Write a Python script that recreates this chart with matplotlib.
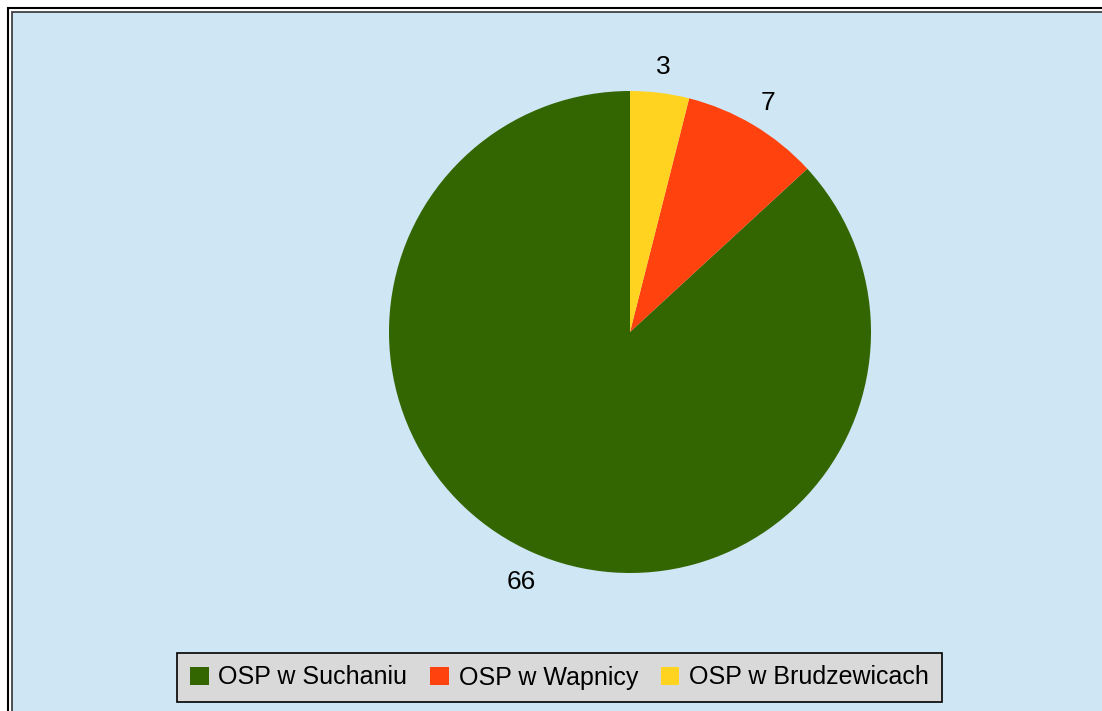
import matplotlib.pyplot as plt
from matplotlib.patches import Rectangle

labels = ['OSP w Suchaniu', 'OSP w Wapnicy', 'OSP w Brudzewicach']
values = [66, 7, 3]
colors = ['#336600', '#FF420E', '#FFD320']

plt.rcParams['font.family'] = ['Liberation Sans', 'DejaVu Sans']

W, H = 1102, 711
fig = plt.figure(figsize=(W / 100, H / 100), dpi=100)
fig.patch.set_facecolor('white')

# background panel with double frame (cut off on right/bottom)
fig.patches.append(Rectangle((12 / W, -0.1), 1.2, (H - 12) / H + 0.1, transform=fig.transFigure,
                             facecolor='#CFE6F4', edgecolor='#333333', linewidth=1.2, zorder=-2))
fig.patches.append(Rectangle((8 / W, -0.1), 1.2, (H - 8) / H + 0.1, transform=fig.transFigure,
                             facecolor='none', edgecolor='black', linewidth=1.5, zorder=-1))

cx, cy, r = 630, 332, 241
ax = fig.add_axes([(cx - r) / W, (H - cy - r) / H, 2 * r / W, 2 * r / H])
ax.set_zorder(3)
wedges, texts = ax.pie(values, colors=colors, startangle=90, counterclock=True,
                       labels=[str(v) for v in values], labeldistance=1.12,
                       textprops={'fontsize': 19, 'color': 'black'},
                       wedgeprops={'linewidth': 0})
for t in texts:
    t.set_ha('center')
    t.set_va('center_baseline')
ax.set_xlim(-1, 1)
ax.set_ylim(-1, 1)
ax.set_aspect('auto')
ax.axis('off')

leg = fig.legend(wedges, labels, loc='center', bbox_to_anchor=(559.5 / W, (H - 677.5) / H),
                 ncol=3, fontsize=18, frameon=True, fancybox=False, framealpha=1,
                 facecolor='#D9D9D9', edgecolor='black', handlelength=0.75, handleheight=0.75,
                 handletextpad=0.4, columnspacing=0.9, borderpad=0.5, borderaxespad=0)
leg.get_frame().set_linewidth(1.2)
leg.set_zorder(4)

fig.savefig('out.png', dpi=100)
